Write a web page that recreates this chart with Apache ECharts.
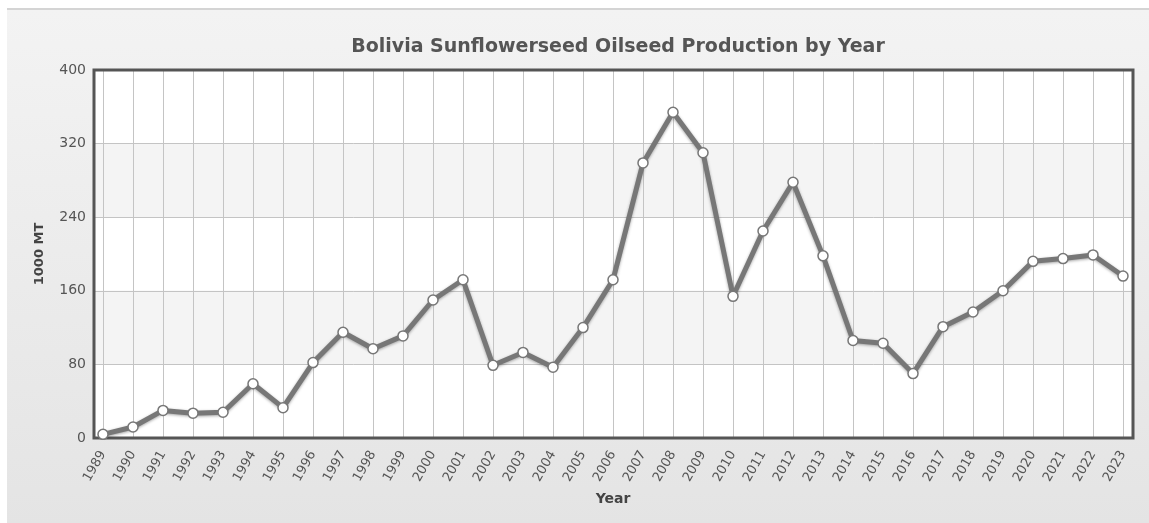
<!DOCTYPE html>
<html>
<head>
<meta charset="utf-8">
<script src="https://cdn.jsdelivr.net/npm/echarts@6/dist/echarts.min.js"></script>
<style>
	html, body { margin: 0; padding: 0; background: #fff; }
	.chart-bg {
		position: absolute; left: 7px; top: 8px; width: 1142px; height: 515px;
		border-top: 2px solid #d4d4d4;
		background: linear-gradient(#f3f3f3, #e4e4e4);
	}
	#main { position: absolute; left: 0; top: 0; width: 1149px; height: 523px; }
</style>
</head>
<body>
<div class="chart-bg"></div>
<div id="main"></div>
<script>
var years = ['1989','1990','1991','1992','1993','1994','1995','1996','1997','1998',
	'1999','2000','2001','2002','2003','2004','2005','2006','2007','2008',
	'2009','2010','2011','2012','2013','2014','2015','2016','2017','2018',
	'2019','2020','2021','2022','2023'];
var production = [4, 12, 30, 27, 28, 59, 33, 82, 115, 97,
	111, 150, 172, 79, 93, 77, 120, 172, 299, 354,
	310, 154, 225, 278, 198, 106, 103, 70, 121, 137,
	160, 192, 195, 199, 176];
var yTicks = { min: 0, max: 400, interval: 80 };

var myChart = echarts.init(document.getElementById('main'));
var txt = '#555';
var option = {
	backgroundColor: 'transparent',
	animation: false,
	title: {
		text: 'Bolivia Sunflowerseed Oilseed Production by Year',
		left: 613, top: 33, textAlign: 'center',
		textStyle: { fontFamily: 'DejaVu Sans', fontSize: 19, fontWeight: 'bold', color: '#555' }
	},
	grid: [
		// outer frame: bands, horizontal lines, dark border
		{ left: 94, right: 16, top: 70, bottom: 85, show: true, borderColor: '#555', borderWidth: 3, backgroundColor: 'transparent', z: 4 },
		// inner grid where the points sit
		{ left: 103, right: 26, top: 70, bottom: 85 }
	],
	xAxis: [
		{ gridIndex: 0, type: 'value', min: 0, max: 1, show: false },
		{
			gridIndex: 1, type: 'category', data: years, boundaryGap: false,
			axisLine: { show: false }, axisTick: { show: false },
			splitLine: { show: true, lineStyle: { color: '#c4c4c4', width: 1 } },
			axisLabel: { rotate: 60, margin: 14, fontFamily: 'DejaVu Sans', fontSize: 13, color: txt, interval: 0 },
			name: 'Year', nameLocation: 'middle', nameGap: 54,
			nameTextStyle: { fontFamily: 'DejaVu Sans', fontSize: 14, fontWeight: 'bold', color: '#444' }
		}
	],
	yAxis: [
		{
			gridIndex: 0, type: 'value', min: yTicks.min, max: yTicks.max, interval: yTicks.interval,
			axisLine: { show: false }, axisTick: { show: false },
			axisLabel: { margin: 8, fontFamily: 'DejaVu Sans', fontSize: 14, color: txt },
			splitLine: { show: true, lineStyle: { color: '#c4c4c4', width: 1 } },
			splitArea: { show: true, areaStyle: { color: ['#ffffff', '#f4f4f4'] } },
			name: '1000 MT', nameLocation: 'middle', nameGap: 48,
			nameTextStyle: { fontFamily: 'DejaVu Sans', fontSize: 13, fontWeight: 'bold', color: '#444' }
		},
		{ gridIndex: 1, type: 'value', min: yTicks.min, max: yTicks.max, show: false, splitLine: { show: false } }
	],
	series: [{
		type: 'line',
		xAxisIndex: 1, yAxisIndex: 1,
		data: production,
		symbol: 'circle', symbolSize: 10,
		z: 5,
		lineStyle: { color: '#777', width: 5, shadowColor: 'rgba(0,0,0,0.35)', shadowBlur: 3, shadowOffsetY: 1 },
		itemStyle: { color: '#fff', borderColor: '#777', borderWidth: 1.5 }
	}]
};
myChart.setOption(option);
</script>
</body>
</html>
